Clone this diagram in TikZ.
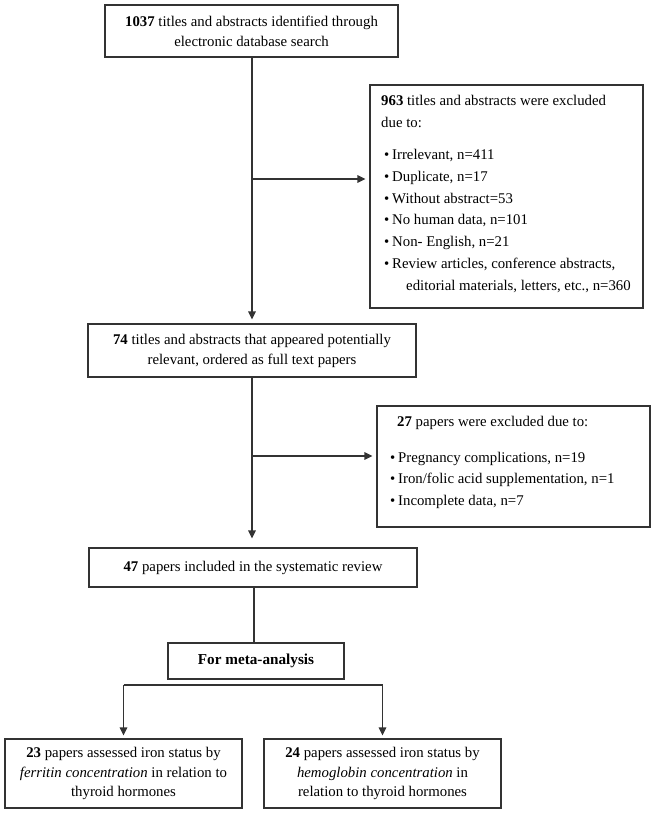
\documentclass[tikz,border=0pt]{standalone}
\usepackage{fontspec}
\setmainfont{Liberation Serif}
\usetikzlibrary{arrows.meta}
\begin{document}
\begin{tikzpicture}[x=1pt,y=-1pt,
  box/.style={draw=black!80, line width=1.1pt, inner sep=0pt, align=center,
    font=\fontsize{14.8}{20}\selectfont},
  exbox/.style={draw=black!80, line width=1.1pt, inner sep=0pt},
  extext/.style={inner sep=0pt, align=left, anchor=north west,
    font=\fontsize{14.8}{21.7}\selectfont},
  arr/.style={draw=black!80, line width=1.1pt, -{Triangle[length=8pt,width=7.5pt]}},
  ln/.style={draw=black!80, line width=1.1pt}]
\useasboundingbox (0,0) rectangle (655,813);

\node[box, minimum width=293pt, minimum height=52pt] (b1) at (251.5,31)
  {\textbf{1037} titles and abstracts identified through\\electronic database search};

\node[exbox, minimum width=273pt, minimum height=223pt] (e1) at (506.5,196.5) {};
\node[extext] (e1t) at (381,95)
  {\textbf{963} titles and abstracts were excluded\\
   due to:\\[11pt]
   \hspace*{3pt}\makebox[8pt][l]{•}Irrelevant, n=411\\
   \hspace*{3pt}\makebox[8pt][l]{•}Duplicate, n=17\\
   \hspace*{3pt}\makebox[8pt][l]{•}Without abstract=53\\
   \hspace*{3pt}\makebox[8pt][l]{•}No human data, n=101\\
   \hspace*{3pt}\makebox[8pt][l]{•}Non- English, n=21\\
   \hspace*{3pt}\makebox[8pt][l]{•}Review articles, conference abstracts,\\
   \hspace*{25pt}editorial materials, letters, etc., n=360};

\node[box, minimum width=328pt, minimum height=53pt] (b2) at (252,350.5)
  {\textbf{74} titles and abstracts that appeared potentially\\relevant, ordered as full text papers};

\node[exbox, minimum width=273pt, minimum height=121pt] (e2) at (513.5,466.5) {};
\node[extext] (e2t) at (390,416)
  {\hspace*{7pt}\textbf{27} papers were excluded due to:\\[14pt]
   \makebox[8pt][l]{•}Pregnancy complications, n=19\\
   \makebox[8pt][l]{•}Iron/folic acid supplementation, n=1\\
   \makebox[8pt][l]{•}Incomplete data, n=7};

\node[box, minimum width=328pt, minimum height=39pt] (b3) at (253,567.5)
  {\textbf{47} papers included in the systematic review};

\node[box, minimum width=176pt, minimum height=36pt, font=\fontsize{15.2}{20}\selectfont] (meta) at (256,661)
  {\textbf{For meta-analysis}};

\node[box, minimum width=237pt, minimum height=69pt, font=\fontsize{14.8}{19.5}\selectfont] (l) at (123.5,773.5)
  {\textbf{23} papers assessed iron status by\\\textit{ferritin concentration} in relation to\\thyroid hormones};
\node[box, minimum width=237pt, minimum height=69pt, font=\fontsize{14.8}{19.5}\selectfont] (r) at (382.5,773.5)
  {\textbf{24} papers assessed iron status by\\\textit{hemoglobin concentration} in\\relation to thyroid hormones};

% connectors
\coordinate (j1) at (252,179);
\coordinate (j2) at (252,456);
\coordinate (hl) at (123.5,685);
\coordinate (hr) at (382.5,685);

\draw[arr, shorten >=4pt] (b1.south -| j1) -- (b2.north -| j1);
\draw[arr, shorten >=4pt] (j1) -- (j1 -| e1.west);
\draw[arr, shorten >=9pt] (b2.south -| j2) -- (b3.north -| j2);
\draw[arr, shorten >=4pt] (j2) -- (j2 -| e2.west);
\draw[ln] (b3.south -| 254,0) -- (meta.north -| 254,0);
\draw[ln] (hl) -- (hr);
\draw[arr, shorten >=3pt] (hl) -- (l.north);
\draw[arr, shorten >=3pt] (hr) -- (r.north);
\end{tikzpicture}
\end{document}
